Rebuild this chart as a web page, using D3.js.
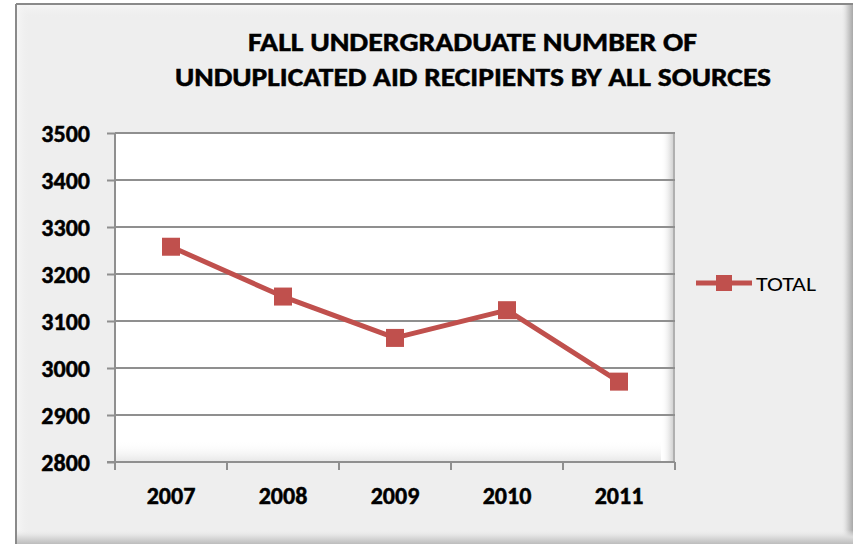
<!DOCTYPE html>
<html>
<head>
<meta charset="utf-8">
<script src="https://cdn.jsdelivr.net/npm/d3@7"></script>
<style>
  html, body { margin: 0; padding: 0; background: #ffffff; }
  svg { display: block; }
  text { font-family: Carlito, Lato, "Liberation Sans", sans-serif; }
</style>
</head>
<body>
<svg id="chart" width="853" height="544"></svg>
<script>
const years = ["2007", "2008", "2009", "2010", "2011"];
const totals = [3258, 3152, 3064, 3123, 2971];
const yTicks = [2800, 2900, 3000, 3100, 3200, 3300, 3400, 3500];
const seriesName = "TOTAL";
const titleLines = ["FALL  UNDERGRADUATE NUMBER OF", "UNDUPLICATED AID RECIPIENTS BY ALL SOURCES"];

const svg = d3.select("#chart");
const W = 853, H = 544;
const red = "#C0504D";

const defs = svg.append("defs");
function lg(id, x1, y1, x2, y2, stops) {
  const g = defs.append("linearGradient").attr("id", id)
    .attr("x1", x1).attr("y1", y1).attr("x2", x2).attr("y2", y2);
  stops.forEach(s => g.append("stop").attr("offset", s[0]).attr("stop-color", s[1]).attr("stop-opacity", s[2] == null ? 1 : s[2]));
}
lg("frameR", 0, 0, 1, 0, [[0, "#eeeeee", 0], [0.5, "#d6d6d6", 1], [1, "#a8a8a8", 1]]);
lg("frameB", 0, 0, 0, 1, [[0, "#eeeeee", 0], [0.5, "#dcdcdc", 1], [1, "#bdbdbd", 1]]);
lg("frameT", 0, 0, 0, 1, [[0, "#f7f7f7", 1], [1, "#eeeeee", 0]]);
lg("frameL", 0, 0, 1, 0, [[0, "#f7f7f7", 1], [1, "#eeeeee", 0]]);
lg("plotR", 0, 0, 1, 0, [[0, "#ffffff", 0], [0.6, "#e8e8e8", 1], [1, "#c8c8c8", 1]]);
lg("plotB", 0, 0, 0, 1, [[0, "#ffffff", 0], [1, "#e6e6e6", 1]]);

// outer frame
const fx = 16, fy = 4;
svg.append("rect").attr("x", fx).attr("y", fy).attr("width", W - fx + 10).attr("height", H - fy + 10)
  .attr("fill", "#eeeeee");
svg.append("rect").attr("x", fx).attr("y", fy).attr("width", W - fx).attr("height", 14).attr("fill", "url(#frameT)");
svg.append("rect").attr("x", fx).attr("y", fy).attr("width", 14).attr("height", H - fy).attr("fill", "url(#frameL)");
svg.append("rect").attr("x", W - 12).attr("y", fy).attr("width", 12).attr("height", H - fy).attr("fill", "url(#frameR)");
svg.append("rect").attr("x", fx).attr("y", H - 14).attr("width", W - fx).attr("height", 14).attr("fill", "url(#frameB)");
svg.append("line").attr("x1", fx).attr("x2", fx).attr("y1", fy).attr("y2", H).attr("stroke", "#8a8a8a").attr("stroke-width", 2);
svg.append("line").attr("x1", fx).attr("x2", W).attr("y1", fy).attr("y2", fy).attr("stroke", "#8a8a8a").attr("stroke-width", 2);

// plot area
const plot = { left: 115, right: 675, top: 133, bottom: 462 };
const x = d3.scaleBand().domain(years).range([plot.left, plot.right]);
const y = d3.scaleLinear().domain([2800, 3500]).range([plot.bottom, plot.top]);

svg.append("rect").attr("x", plot.left).attr("y", plot.top)
  .attr("width", plot.right - plot.left).attr("height", plot.bottom - plot.top).attr("fill", "#ffffff");
svg.append("rect").attr("x", plot.right - 14).attr("y", plot.top)
  .attr("width", 14).attr("height", plot.bottom - plot.top).attr("fill", "url(#plotR)");
svg.append("rect").attr("x", plot.left).attr("y", plot.bottom - 22)
  .attr("width", plot.right - plot.left - 14).attr("height", 22).attr("fill", "url(#plotB)");
svg.append("line").attr("x1", plot.right - 1).attr("x2", plot.right - 1).attr("y1", plot.top).attr("y2", plot.bottom)
  .attr("stroke", "#b0b0b0").attr("stroke-width", 2);

// gridlines
svg.append("g").selectAll("line").data(yTicks.filter(t => t !== 2800)).join("line")
  .attr("x1", plot.left).attr("x2", plot.right)
  .attr("y1", d => y(d)).attr("y2", d => y(d))
  .attr("stroke", "#8f8f8f").attr("stroke-width", 2);

// y axis
const yAxis = svg.append("g").attr("transform", `translate(${plot.left},0)`)
  .call(d3.axisLeft(y).tickValues(yTicks).tickSize(8).tickPadding(17).tickFormat(d3.format("d")));
yAxis.select(".domain").remove();
yAxis.selectAll(".tick line").attr("stroke", "#8f8f8f").attr("stroke-width", 2);
yAxis.append("line").attr("x1", 0).attr("x2", 0).attr("y1", plot.top).attr("y2", plot.bottom + 8)
  .attr("stroke", "#8f8f8f").attr("stroke-width", 2);
yAxis.selectAll(".tick text").attr("fill", "#000").style("font-size", "24px").style("font-weight", "bold")
  .attr("stroke", "#000").attr("stroke-width", 0.5)
  .attr("dy", "0.35em");

// x axis
const xAxis = svg.append("g").attr("transform", `translate(0,${plot.bottom})`)
  .call(d3.axisBottom(x).tickSize(0).tickPadding(25));
xAxis.select(".domain").remove();
xAxis.append("line").attr("x1", plot.left - 8).attr("x2", plot.right).attr("y1", 0).attr("y2", 0)
  .attr("stroke", "#8f8f8f").attr("stroke-width", 2);
const bounds = years.map(d => x(d)).concat([plot.right]);
xAxis.selectAll(".bnd").data(bounds).join("line").attr("class", "bnd")
  .attr("x1", d => d).attr("x2", d => d).attr("y1", 0).attr("y2", 8)
  .attr("stroke", "#8f8f8f").attr("stroke-width", 2);
xAxis.selectAll(".tick text").attr("fill", "#000").style("font-size", "24px").style("font-weight", "bold")
  .attr("stroke", "#000").attr("stroke-width", 0.5)
  .attr("dy", "0.71em");

// series line
const pts = years.map((d, i) => [x(d) + x.bandwidth() / 2, y(totals[i])]);
svg.append("path").datum(pts).attr("d", d3.line())
  .attr("fill", "none").attr("stroke", red).attr("stroke-width", 5).attr("stroke-linejoin", "round");
const ms = 18;
svg.append("g").selectAll("rect").data(pts).join("rect")
  .attr("x", d => d[0] - ms / 2).attr("y", d => d[1] - ms / 2)
  .attr("width", ms).attr("height", ms).attr("fill", red);

// title
svg.append("g").selectAll("text").data(titleLines).join("text")
  .attr("x", (d, i) => i === 0 ? 248 : 175).attr("y", (d, i) => i === 0 ? 51 : 86)
  .style("font-size", "27px").style("font-weight", "bold").attr("fill", "#000")
  .attr("stroke", "#000").attr("stroke-width", 0.5)
  .attr("textLength", (d, i) => i === 0 ? 449 : 596)
  .attr("lengthAdjust", "spacingAndGlyphs")
  .text(d => d);

// legend
const ly = 283;
svg.append("line").attr("x1", 696).attr("x2", 752).attr("y1", ly).attr("y2", ly)
  .attr("stroke", red).attr("stroke-width", 5);
svg.append("rect").attr("x", 716).attr("y", ly - 8).attr("width", 16).attr("height", 16).attr("fill", red);
svg.append("text").attr("x", 756).attr("y", ly).attr("dy", "0.36em")
  .style("font-size", "21px").attr("fill", "#000")
  .attr("textLength", 60).attr("lengthAdjust", "spacingAndGlyphs")
  .text(seriesName);
</script>
</body>
</html>
